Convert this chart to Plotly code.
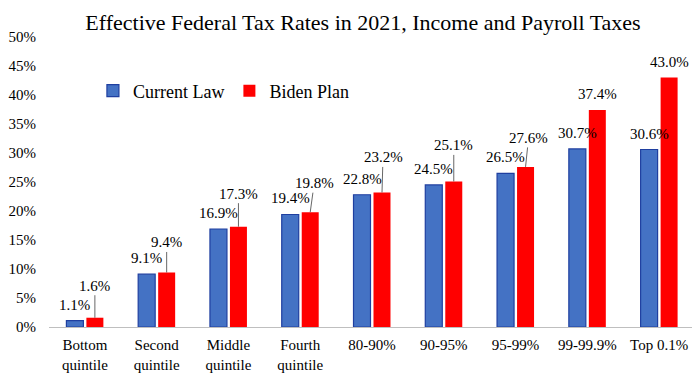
import plotly.graph_objects as go

# ---- data ----
categories = ["Bottom<br>quintile", "Second<br>quintile", "Middle<br>quintile",
              "Fourth<br>quintile", "80-90%", "90-95%", "95-99%", "99-99.9%", "Top 0.1%"]
current_law = [1.1, 9.1, 16.9, 19.4, 22.8, 24.5, 26.5, 30.7, 30.6]
biden_plan = [1.6, 9.4, 17.3, 19.8, 23.2, 25.1, 27.6, 37.4, 43.0]
y_ticks = [0, 5, 10, 15, 20, 25, 30, 35, 40, 45, 50]
y_tick_labels = [f"{t}%" for t in y_ticks]

# ---- styling ----
FONT = "Liberation Serif, Times New Roman, serif"
BLUE = "#4472C4"
BLUE_EDGE = "#1F3FA0"
RED = "#FF0000"
# pixel offsets (dx, dy) of red data labels drawn with a leader line; None = plain label
red_leader = [(0, -32), (0, -30), (0, -33), (4, -29), (1, -35), (0, -36), (3, -29), None, None]

# the page body adds an 8px offset, so the figure is 8px smaller than the window
W, H = 692, 375

fig = go.Figure()
fig.add_bar(name="Current Law", x=categories, y=current_law,
            marker=dict(color=BLUE, line=dict(color=BLUE_EDGE, width=1.2)))
fig.add_bar(name="Biden Plan", x=categories, y=biden_plan,
            marker=dict(color=RED, line=dict(width=0)))

annotations = []
for c, v in zip(categories, current_law):
    annotations.append(dict(x=c, y=v, xref="x", yref="y", text=f"{v:.1f}%",
                            showarrow=False, xshift=-10, yshift=16,
                            font=dict(family=FONT, size=15, color="black")))
for c, v, off in zip(categories, biden_plan, red_leader):
    if off is None:
        annotations.append(dict(x=c, y=v, xref="x", yref="y", text=f"{v:.1f}%",
                                showarrow=False, xshift=10, yshift=16,
                                font=dict(family=FONT, size=15, color="black")))
    else:
        annotations.append(dict(x=c, y=v, xref="x", yref="y", text=f"{v:.1f}%",
                                showarrow=True, arrowhead=0, arrowwidth=0.8,
                                arrowcolor="#404040", standoff=0,
                                ax=off[0], ay=off[1], xshift=10,
                                font=dict(family=FONT, size=15, color="black")))

fig.update_layout(
    width=W, height=H, autosize=False,
    margin=dict(l=41, r=5, t=29, b=56, autoexpand=False),
    paper_bgcolor="white", plot_bgcolor="white",
    barmode="group", bargap=0.443, bargroupgap=0.15,
    font=dict(family=FONT, size=15, color="black"),
    title=dict(text="Effective Federal Tax Rates in 2021, Income and Payroll Taxes",
               x=355 / W, xanchor="center", y=1 - 14 / H, yanchor="middle",
               font=dict(family=FONT, size=22, color="black")),
    legend=dict(orientation="h", x=0.068, xref="paper", xanchor="left",
                y=0.814, yref="paper", yanchor="middle",
                font=dict(family=FONT, size=18, color="black"),
                bgcolor="rgba(0,0,0,0)", itemwidth=30),
    annotations=annotations,
    xaxis=dict(showline=True, linecolor="#BFBFBF", linewidth=1, ticks="",
               showgrid=False, automargin=False,
               tickfont=dict(family=FONT, size=15, color="black"),
               ticklabelstandoff=4),
    yaxis=dict(range=[0, 50], tickmode="array", tickvals=y_ticks, ticktext=y_tick_labels,
               showgrid=False, zeroline=False, showline=False, ticks="", automargin=False,
               tickfont=dict(family=FONT, size=15, color="black"),
               ticklabelstandoff=12),
)

fig.write_html("out.html")
